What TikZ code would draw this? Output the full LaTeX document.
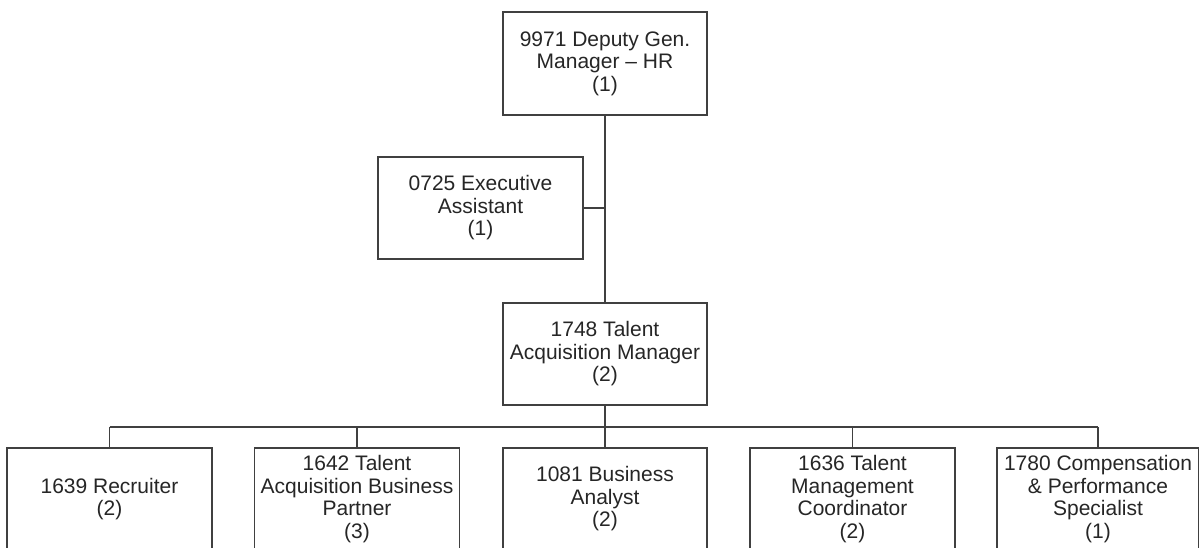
\documentclass[tikz,border=0pt]{standalone}
\usepackage{fontspec}
\setmainfont{Liberation Sans}
\definecolor{boxline}{HTML}{404040}
\definecolor{txt}{HTML}{262626}
\begin{document}
\begin{tikzpicture}[x=1pt,y=-1pt,
  posbox/.style={draw=boxline,line width=1.3pt,fill=white,text=txt,
    minimum width=205pt,minimum height=103pt,inner sep=0pt,align=center,
    font=\fontsize{21}{22.5}\selectfont},
  conn/.style={draw=boxline,line width=1.3pt}]
\useasboundingbox (0,0) rectangle (1199,548);
\clip (0,0) rectangle (1199,548);
\fill[white] (0,0) rectangle (1199,548);
\node[posbox,minimum width=204pt] (top) at (605,63.5) {9971 Deputy Gen.\\Manager -- HR\\(1)};
\node[posbox,minimum height=102pt] (exec) at (480.5,208) {0725 Executive\\Assistant\\(1)};
\node[posbox,minimum width=204pt,minimum height=102pt] (mid) at (605,354) {1748 Talent\\Acquisition Manager\\(2)};
\node[posbox,minimum height=102pt] (b1) at (109.5,499) {1639 Recruiter\\(2)};
\node[posbox,minimum height=102pt] (b2) at (357,499) {1642 Talent\\Acquisition Business\\Partner\\(3)};
\node[posbox,minimum width=204pt,minimum height=102pt] (b3) at (605,499) {1081 Business\\Analyst\\(2)};
\node[posbox,minimum height=102pt] (b4) at (852.5,499) {1636 Talent\\Management\\Coordinator\\(2)};
\node[posbox,minimum width=202pt,minimum height=102pt] (b5) at (1098,499) {1780 Compensation\\\& Performance\\Specialist\\(1)};
\coordinate (bus) at (605,427);
\draw[conn] (top.south) -- (mid.north);
\draw[conn] (exec.east) -- (top.south |- exec.east);
\draw[conn] (mid.south) -- (bus);
\draw[conn] (b1.north |- bus) -- (b5.north |- bus);
\foreach \b in {b1,b2,b3,b4,b5} \draw[conn] (\b.north |- bus) -- (\b.north);
\end{tikzpicture}
\end{document}
